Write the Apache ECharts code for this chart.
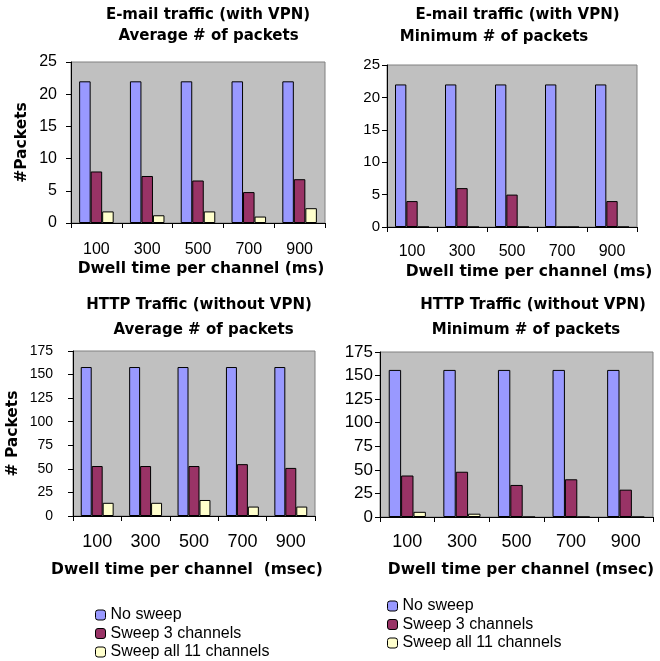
<!DOCTYPE html>
<html>
<head>
<meta charset="utf-8">
<script src="https://cdn.jsdelivr.net/npm/echarts@6/dist/echarts.min.js"></script>
<style>
  html, body { margin: 0; padding: 0; background: #fff; }
  #chart { width: 660px; height: 661px; }
</style>
</head>
<body>
<div id="chart"></div>
<script>
// Dwell time per channel (categories shared by all four panels)
const dwellTimes = ['100', '300', '500', '700', '900'];

// E-mail traffic (with VPN), average # of packets
const emailAvgNoSweep = [22, 22, 22, 22, 22];
const emailAvgSweep3 = [8, 7.3, 6.6, 4.8, 6.8];
const emailAvgSweep11 = [1.8, 1.2, 1.8, 1.0, 2.3];

// E-mail traffic (with VPN), minimum # of packets
const emailMinNoSweep = [22, 22, 22, 22, 22];
const emailMinSweep3 = [4, 6, 5, 0, 4];
const emailMinSweep11 = [0, 0, 0, 0, 0];

// HTTP traffic (without VPN), average # of packets
const httpAvgNoSweep = [158, 158, 158, 158, 158];
const httpAvgSweep3 = [53, 53, 53, 55, 51];
const httpAvgSweep11 = [14, 14, 17, 10, 10];

// HTTP traffic (without VPN), minimum # of packets
const httpMinNoSweep = [156, 156, 156, 156, 156];
const httpMinSweep3 = [44, 48, 34, 40, 29];
const httpMinSweep11 = [5.5, 3.5, 0, 0, 0];

const seriesNames = ['No sweep', 'Sweep 3 channels', 'Sweep all 11 channels'];
const seriesColors = ['#9999FF', '#993366', '#FFFFCC'];

const BOLD = '"DejaVu Sans", sans-serif';
const REG = '"Liberation Sans", Arial, sans-serif';

const panels = [
  { grid: { left: 71, top: 62, width: 254, height: 161 },
    data: [emailAvgNoSweep, emailAvgSweep3, emailAvgSweep11],
    yMax: 25, yStep: 5, yFont: 16, yMargin: 14, xFont: 16, xMargin: 19,
    yName: '#Packets', yNameGap: 41,
    xName: 'Dwell time per channel (ms)', xNameGap: 38, xNamePad: [0, 0, 0, 6] },
  { grid: { left: 387, top: 65, width: 250, height: 162 },
    data: [emailMinNoSweep, emailMinSweep3, emailMinSweep11],
    yMax: 25, yStep: 5, yFont: 15, yMargin: 7, xFont: 16, xMargin: 17,
    yName: '', yNameGap: 0,
    xName: 'Dwell time per channel (ms)', xNameGap: 37, xNamePad: [0, 0, 0, 34] },
  { grid: { left: 73, top: 351, width: 242, height: 165 },
    data: [httpAvgNoSweep, httpAvgSweep3, httpAvgSweep11],
    yMax: 175, yStep: 25, yFont: 14, yMargin: 20, xFont: 18, xMargin: 17,
    yName: '# Packets', yNameGap: 52,
    xName: 'Dwell time per channel  (msec)', xNameGap: 46, xNamePad: [0, 14, 0, 0] },
  { grid: { left: 380, top: 352, width: 273, height: 165 },
    data: [httpMinNoSweep, httpMinSweep3, httpMinSweep11],
    yMax: 175, yStep: 25, yFont: 17, yMargin: 7, xFont: 18, xMargin: 16,
    yName: '', yNameGap: 0,
    xName: 'Dwell time per channel (msec)', xNameGap: 45, xNamePad: [0, 0, 0, 9] }
];

// Two-line panel headings
const headings = [
  { x: 208, y: 15, text: 'E-mail traffic (with VPN)' },
  { x: 208.5, y: 36, text: 'Average # of packets' },
  { x: 517.5, y: 15, text: 'E-mail traffic (with VPN)' },
  { x: 494, y: 37, text: 'Minimum # of packets' },
  { x: 199, y: 305, text: 'HTTP Traffic (without VPN)' },
  { x: 203.5, y: 330, text: 'Average # of packets' },
  { x: 533, y: 305, text: 'HTTP Traffic (without VPN)' },
  { x: 526, y: 330, text: 'Minimum # of packets' }
];

const grids = [], xAxes = [], yAxes = [], series = [];
panels.forEach((p, i) => {
  grids.push(Object.assign({
    show: true, backgroundColor: '#C0C0C0', borderColor: '#808080', borderWidth: 1
  }, p.grid));
  xAxes.push({
    type: 'category', gridIndex: i, data: dwellTimes,
    axisLine: { lineStyle: { color: '#000', width: 1 } },
    axisTick: { show: true, length: 5, lineStyle: { color: '#000' } },
    axisLabel: { color: '#000', fontFamily: REG, fontSize: p.xFont, margin: p.xMargin },
    name: p.xName, nameLocation: 'middle', nameGap: p.xNameGap,
    nameTextStyle: { color: '#000', fontFamily: BOLD, fontWeight: 'bold', fontSize: 15.5, padding: p.xNamePad }
  });
  yAxes.push({
    type: 'value', gridIndex: i, min: 0, max: p.yMax, interval: p.yStep,
    splitLine: { show: false },
    axisLine: { show: true, lineStyle: { color: '#000', width: 1 } },
    axisTick: { show: true, length: 5, lineStyle: { color: '#000' } },
    axisLabel: { color: '#000', fontFamily: REG, fontSize: p.yFont, margin: p.yMargin },
    name: p.yName, nameLocation: 'middle', nameGap: p.yNameGap, nameRotate: 90,
    nameTextStyle: { color: '#000', fontFamily: BOLD, fontWeight: 'bold', fontSize: 15.5 }
  });
  p.data.forEach((vals, k) => {
    series.push({
      type: 'bar', name: seriesNames[k], xAxisIndex: i, yAxisIndex: i,
      data: vals, barGap: '0%', barCategoryGap: '32%',
      itemStyle: { color: seriesColors[k], borderColor: '#000', borderWidth: 1 },
      emphasis: { disabled: true }
    });
  });
});

const legendBase = {
  orient: 'vertical', data: seriesNames, itemWidth: 10, itemHeight: 10, itemGap: 2.5,
  padding: 0, selectedMode: false,
  itemStyle: { borderColor: '#000', borderWidth: 1 },
  textStyle: { color: '#000', fontFamily: REG, fontSize: 16, lineHeight: 16 }
};

const chart = echarts.init(document.getElementById('chart'), null, { renderer: 'canvas' });
chart.setOption({
  animation: false,
  backgroundColor: '#fff',
  grid: grids,
  xAxis: xAxes,
  yAxis: yAxes,
  series: series,
  legend: [
    Object.assign({ left: 95, top: 607 }, legendBase),
    Object.assign({ left: 387, top: 598 }, legendBase)
  ],
  graphic: headings.map(h => ({
    type: 'text', x: h.x, y: h.y, silent: true,
    style: { text: h.text, align: 'center', verticalAlign: 'middle', fill: '#000',
      font: 'bold 15px ' + BOLD }
  }))
});
</script>
</body>
</html>
